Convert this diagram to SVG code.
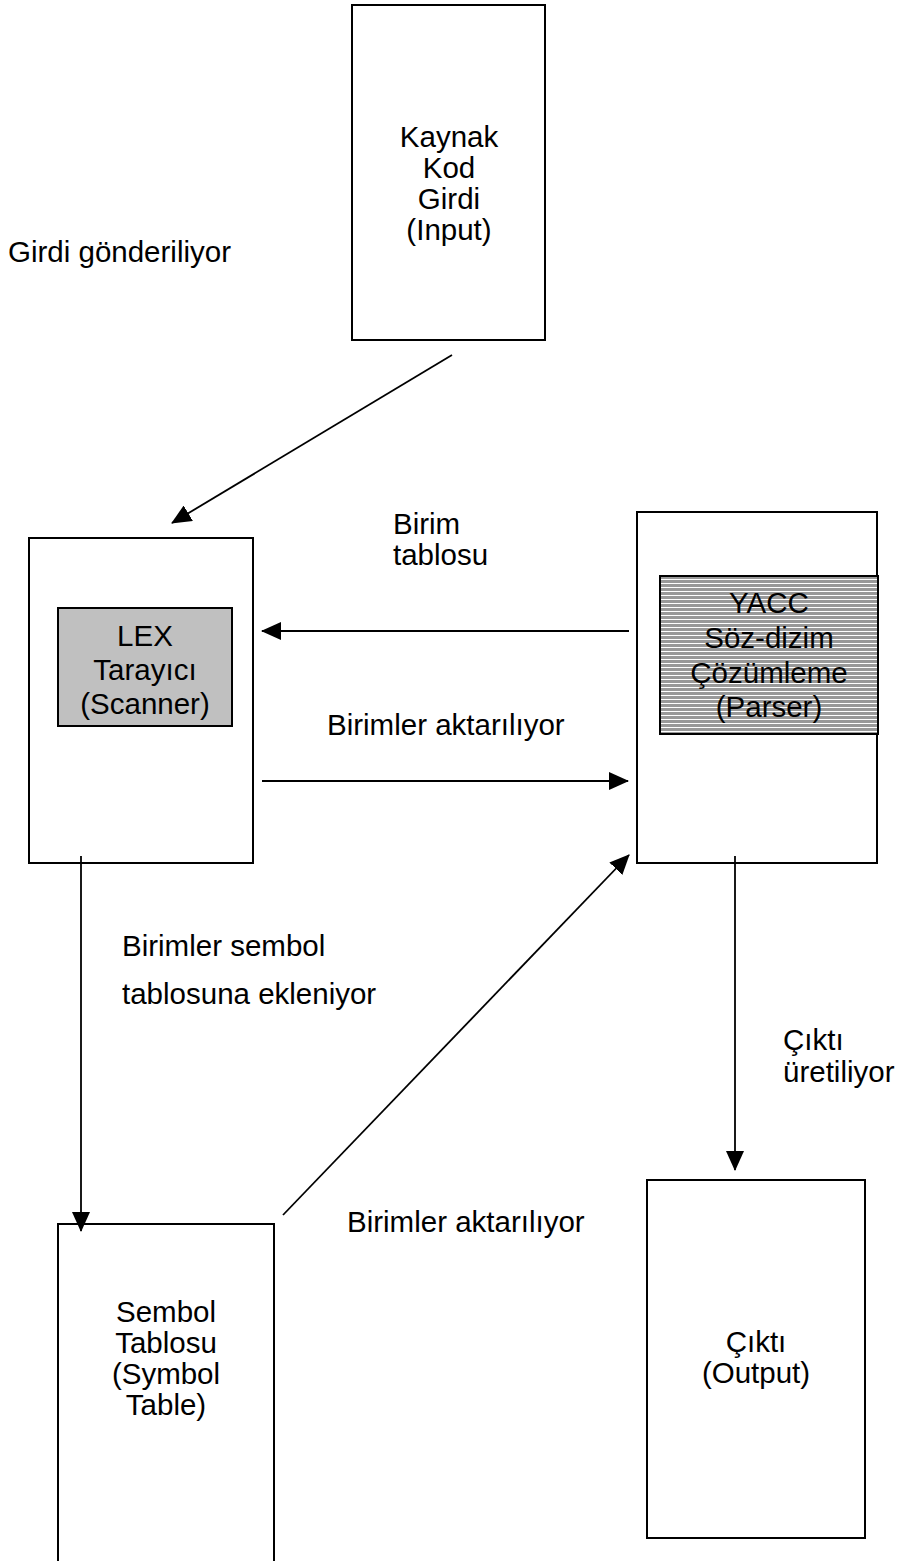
<svg xmlns="http://www.w3.org/2000/svg" width="915" height="1561" viewBox="0 0 915 1561">
<style>
.box{fill:#fff;stroke:#000;stroke-width:2}
.t{font-family:"Liberation Sans",Arial,sans-serif;font-size:29.5px;fill:#000}
.c{text-anchor:middle}
.ln{stroke:#000;stroke-width:1.8;fill:none}
</style>
<defs>
<pattern id="stripes" patternUnits="userSpaceOnUse" width="8" height="4">
<rect width="8" height="4" fill="#999"/>
<rect y="3" width="8" height="1" fill="#fff"/>
</pattern>
<marker id="ah" markerWidth="20" markerHeight="18" refX="19" refY="9" orient="auto" markerUnits="userSpaceOnUse">
<path d="M0,0 L20,9 L0,18 Z" fill="#000"/>
</marker>
</defs>
<g id="input">
<rect class="box" x="352" y="5" width="193" height="335"/>
<text class="t c" x="449" y="147">Kaynak</text>
<text class="t c" x="449" y="178">Kod</text>
<text class="t c" x="449" y="209">Girdi</text>
<text class="t c" x="449" y="240">(Input)</text>
</g>
<g id="lex">
<rect class="box" x="29" y="538" width="224" height="325"/>
<rect x="58" y="608" width="174" height="118" fill="#c0c0c0" stroke="#000" stroke-width="2"/>
<text class="t c" x="145" y="646">LEX</text>
<text class="t c" x="145" y="680">Tarayıcı</text>
<text class="t c" x="145" y="714">(Scanner)</text>
</g>
<g id="yacc">
<rect class="box" x="637" y="512" width="240" height="351"/>
<rect x="660" y="576" width="218" height="158" fill="url(#stripes)" stroke="#000" stroke-width="2"/>
<text class="t c" x="769" y="613">YACC</text>
<text class="t c" x="769" y="648">Söz-dizim</text>
<text class="t c" x="769" y="683">Çözümleme</text>
<text class="t c" x="769" y="717">(Parser)</text>
</g>
<g id="symbol">
<rect class="box" x="58" y="1224" width="216" height="360"/>
<text class="t c" x="166" y="1322">Sembol</text>
<text class="t c" x="166" y="1353">Tablosu</text>
<text class="t c" x="166" y="1384">(Symbol</text>
<text class="t c" x="166" y="1415">Table)</text>
</g>
<g id="output">
<rect class="box" x="647" y="1180" width="218" height="358"/>
<text class="t c" x="756" y="1352">Çıktı</text>
<text class="t c" x="756" y="1383">(Output)</text>
</g>
<g id="connectors">
<line class="ln" x1="452" y1="355" x2="172" y2="523" marker-end="url(#ah)"/>
<line class="ln" x1="629" y1="631" x2="262" y2="631" marker-end="url(#ah)"/>
<line class="ln" x1="262" y1="781" x2="628" y2="781" marker-end="url(#ah)"/>
<line class="ln" x1="81" y1="856" x2="81" y2="1231" marker-end="url(#ah)"/>
<line class="ln" x1="283" y1="1215" x2="629" y2="855" marker-end="url(#ah)"/>
<line class="ln" x1="735" y1="856" x2="735" y2="1170" marker-end="url(#ah)"/>
</g>
<g id="labels">
<text class="t" x="8" y="262">Girdi gönderiliyor</text>
<text class="t" x="393" y="534">Birim</text>
<text class="t" x="393" y="565">tablosu</text>
<text class="t" x="327" y="735">Birimler aktarılıyor</text>
<text class="t" x="122" y="956">Birimler sembol</text>
<text class="t" x="122" y="1004">tablosuna ekleniyor</text>
<text class="t" x="347" y="1232">Birimler aktarılıyor</text>
<text class="t" x="783" y="1050">Çıktı</text>
<text class="t" x="783" y="1082">üretiliyor</text>
</g>
</svg>
